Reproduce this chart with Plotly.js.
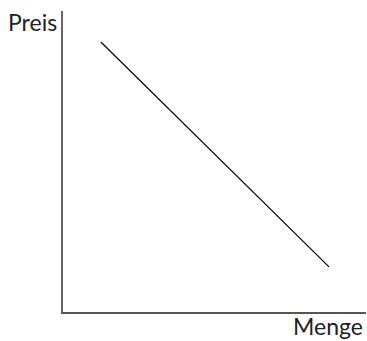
<!DOCTYPE html>
<html>
<head>
<meta charset="utf-8">
<script src="https://cdn.plot.ly/plotly-3.0.1.min.js"></script>
<style>html,body{margin:0;padding:0;background:#fff;}#chart{width:367px;height:341px;}</style>
</head>
<body>
<div id="chart"></div>
<script>
const mengeValues = [1.25, 8.78];
const preisValues = [8.97, 1.5];
const xLabel = "Menge";
const yLabel = "Preis";

const trace = {
  x: mengeValues,
  y: preisValues,
  mode: "lines",
  line: {color: "#000", width: 1.2},
  hoverinfo: "skip"
};

const layout = {
  width: 367, height: 341,
  margin: {l: 63, r: 1, t: 11, b: 29},
  paper_bgcolor: "#fff", plot_bgcolor: "#fff",
  showlegend: false,
  font: {family: "Lato, 'Open Sans', sans-serif", size: 23, color: "#222"},
  xaxis: {range: [0, 10], showline: true, linecolor: "#555", linewidth: 2,
          showgrid: false, zeroline: false, showticklabels: false, ticks: ""},
  yaxis: {range: [0, 10], showline: true, linecolor: "#666", linewidth: 2,
          showgrid: false, zeroline: false, showticklabels: false, ticks: ""},
  annotations: [
    {text: yLabel, xref: "paper", yref: "paper", x: 0, y: 1, xanchor: "right", yanchor: "top",
     xshift: -4, yshift: 5, showarrow: false, font: {size: 23, color: "#222"}},
    {text: xLabel, xref: "paper", yref: "paper", x: 1, y: 0, xanchor: "right", yanchor: "top",
     xshift: -1, yshift: 2, showarrow: false, font: {size: 23, color: "#222"}}
  ]
};

Plotly.newPlot("chart", [trace], layout, {displayModeBar: false, staticPlot: true});
</script>
</body>
</html>
